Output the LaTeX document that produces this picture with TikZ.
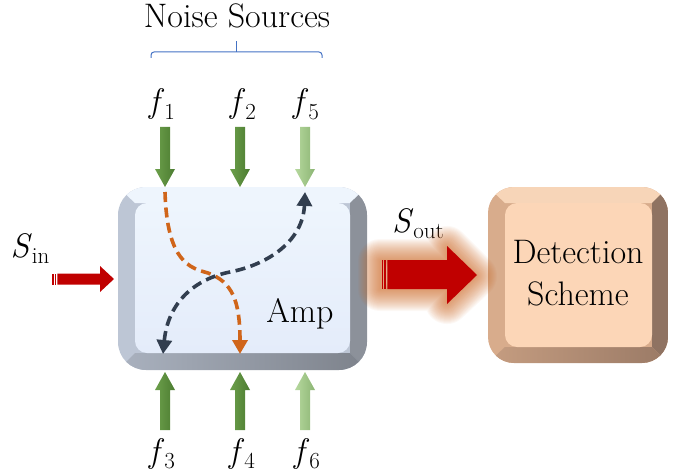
\documentclass[tikz,border=0pt]{standalone}
\usepackage{fontspec}
\usetikzlibrary{arrows.meta}

\definecolor{braceblue}{HTML}{4472C4}
\definecolor{sigred}{HTML}{C00000}
\definecolor{glow}{HTML}{C8601A}
\definecolor{greenA}{HTML}{6C9F4B}
\definecolor{greenB}{HTML}{4C7C31}
\definecolor{paleA}{HTML}{B6D89E}
\definecolor{paleB}{HTML}{8CB574}
\definecolor{pathorange}{HTML}{D0651A}
\definecolor{pathnavy}{HTML}{323E4F}
\definecolor{ampface}{HTML}{E4ECFA}
\definecolor{amptop}{HTML}{EEF5FD}
\definecolor{ampleft}{HTML}{BDC6D5}
\definecolor{ampright}{HTML}{8C919A}
\definecolor{ampbottom}{HTML}{7D828B}
\definecolor{detface}{HTML}{FCD6B7}
\definecolor{dettop}{HTML}{F7D5B8}
\definecolor{detleft}{HTML}{D8AC8C}
\definecolor{detright}{HTML}{8F7362}
\definecolor{detbottom}{HTML}{9A7A66}

\newcommand{\fsrc}[1]{\textit{f}\raisebox{-0.2em}{\fontsize{23}{23}\selectfont #1}}
\newcommand{\sig}[1]{\textit{S}\raisebox{-0.2em}{\fontsize{23}{23}\selectfont #1}}

\begin{document}
\begin{tikzpicture}[x=1pt, y=-1pt, >={Triangle[width=15pt,length=14pt]},
    txt/.style={font=\fontsize{34}{42}\selectfont, inner sep=0pt},
    lbl/.style={txt, anchor=base},
    noisepath/.style={line width=3.6pt, dash pattern=on 10pt off 5.5pt}]
  \useasboundingbox (0,0) rectangle (674,476);

  % title and brace
  \node[lbl] (title) at (237,28) {Noise Sources};
  \draw[braceblue, line width=1pt, rounded corners=3pt] (151,58) -- (151,52) -- (322,52) -- (322,58);
  \draw[braceblue, line width=1pt] (236,52) -- (236,41);

  % amplifier box
  \begin{scope}
    \clip[rounded corners=28pt] (118,187) rectangle (367,370);
    \fill[ampleft] (118,187) rectangle (367,370);
    \fill[amptop] (118,187) -- (367,187) -- (350,203) -- (135,203) -- cycle;
    \fill[ampright] (367,187) -- (367,370) -- (350,353) -- (350,203) -- cycle;
    \shade[left color=ampleft!70!ampbottom, right color=ampbottom] (118,370) -- (367,370) -- (350,353) -- (135,353) -- cycle;
  \end{scope}
  \shade[top color=amptop, bottom color=ampface, rounded corners=12pt] (135,203) rectangle (350,353);

  % detection box
  \begin{scope}
    \clip[rounded corners=26pt] (488,187) rectangle (668,363);
    \fill[detleft] (488,187) rectangle (668,363);
    \fill[dettop] (488,187) -- (668,187) -- (652,203) -- (505,203) -- cycle;
    \fill[detright] (668,187) -- (668,363) -- (652,347) -- (652,203) -- cycle;
    \shade[left color=detleft!70!detbottom, right color=detbottom] (488,363) -- (668,363) -- (652,347) -- (505,347) -- cycle;
  \end{scope}
  \fill[detface, rounded corners=12pt] (505,203) rectangle (652,347);
  \node[txt, align=center] (det) at (578,273) {Detection\\Scheme};
  \node[lbl] (amp) at (300,322) {Amp};

  % noise inputs
  \foreach \x/\ca/\cb in {165/greenA/greenB, 240/greenA/greenB, 305/paleA/paleB}{
    \shade[left color=\ca, right color=\cb] (\x-5,127) -- (\x+5,127) -- (\x+5,169) -- (\x+10,169) -- (\x,187) -- (\x-10,169) -- (\x-5,169) -- cycle;
    \shade[left color=\ca, right color=\cb] (\x-5,430) -- (\x+5,430) -- (\x+5,390) -- (\x+10,390) -- (\x,372) -- (\x-10,390) -- (\x-5,390) -- cycle;
  }
  \node[lbl] (f1) at (162,113) {\fsrc{1}};
  \node[lbl] (f2) at (243,113) {\fsrc{2}};
  \node[lbl] (f5) at (306,113) {\fsrc{5}};
  \node[lbl] (f3) at (162,462) {\fsrc{3}};
  \node[lbl] (f4) at (242,462) {\fsrc{4}};
  \node[lbl] (f6) at (307,462) {\fsrc{6}};

  % mixing paths
  \draw[pathorange, noisepath, ->] (165,192) .. controls (167,262) and (190,268) .. (208,273) .. controls (232,282) and (240,300) .. (240,354);
  \draw[pathnavy, noisepath, <->] (163,354) .. controls (168,302) and (195,279) .. (230,272) .. controls (270,264) and (303,240) .. (305,192);

  % signal in
  \node[lbl] (sin) at (30,257) {\sig{in}};
  \fill[sigred] (52.3,273.5) rectangle (53.8,284.5);
  \fill[sigred] (54.8,273.5) rectangle (56.3,284.5);
  \fill[sigred] (57.3,273.5) -- (100,273.5) -- (100,266) -- (114,279) -- (100,292) -- (100,284.5) -- (57.3,284.5) -- cycle;

  % signal out
  \node[lbl] (sout) at (418,232) {\sig{out}};
  \foreach \w in {2,4,...,44}
    \draw[glow, line width=\w pt, opacity=0.045, line join=round] (380,261) -- (447,261) -- (447,248) -- (475,276) -- (447,302) -- (447,289) -- (380,289) -- cycle;
  \fill[sigred] (381.7,260) rectangle (383.3,289);
  \fill[sigred] (384.3,260) rectangle (386,289);
  \fill[sigred] (387.3,260) -- (447,260) -- (447,246) -- (477,275) -- (447,304) -- (447,289) -- (387.3,289) -- cycle;
\end{tikzpicture}
\end{document}
